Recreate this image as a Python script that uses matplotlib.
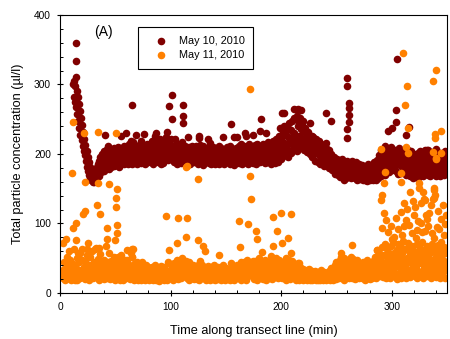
import numpy as np
import matplotlib.pyplot as plt
from matplotlib.ticker import MultipleLocator

plt.rcParams['font.family'] = ['Liberation Sans', 'DejaVu Sans']

# May 10, 2010 -- readings every 0.5 min starting at t = 12 min
may10_start = 12.0
may10_base = np.array("""
300 282 305 275 298 268 290 258 282 248 272 238 262 228 252 220 242 212 232 205
222 198 213 190 204 182 196 176 188 170 181 165 176 162 172 160 168 164 160 168
170 178 163 182 172 186 168 190 178 195 174 184 200 180 192 176 204 188 198 182
190 207 184 196 178 202 188 194 181 206 192 186 199 183 208 190 197 184 203 192
188 210 196 182 204 191 226 186 199 193 207 185 212 197 188 205 201 192 209 186
198 214 190 205 218 193 208 185 217 199 192 211 188 203 228 194 186 208 199 213
191 205 218 187 200 212 195 190 229 203 186 209 197 215 192 201 188 213 206 194
210 189 203 218 196 186 207 226 199 212 191 204 217 188 200 209 194 221 186 205
198 213 187 206 219 192 201 224 210 232 197 215 191 216 206 200 222 193 211 208
196 211 188 204 222 193 200 215 186 207 198 190 213 203 187 209 217 196 205 191
204 191 212 198 186 207 195 224 189 201 210 193 186 205 197 212 190 203 199 188
206 194 211 190 200 186 208 196 226 213 189 202 195 207 184 211 198 191 205 193
200 188 209 195 222 187 203 192 212 198 185 206 194 210 189 201 197 186 208 195
190 205 198 212 186 201 194 209 188 203 196 224 185 199 207 191 202 188 210 196
204 189 198 211 186 206 200 193 207 190 225 184 202 196 209 188 205 197 192 211
187 203 196 214 190 207 185 199 212 193 204 188 226 197 191 209 186 202 214 195
201 189 210 196 205 187 228 199 192 213 186 204 197 215 190 206 198 211 189 203
208 196 209 191 214 201 187 206 230 195 210 188 203 217 192 199 208 186 213 197
205 190 219 198 211 187 222 202 194 215 189 208 226 199 212 193 221 205 196 232
210 240 216 199 228 206 236 213 196 225 244 204 219 235 201 248 214 226 207 252
230 211 250 222 205 254 240 218 246 226 208 252 236 214 245 221 248 206 232 218
238 210 225 203 232 220 214 228 200 220 208 226 196 215 224 204 219 190 210 222
202 216 188 211 198 218 186 207 215 194 204 189 213 198 183 209 192 216 200 207
196 187 206 180 198 193 184 200 177 190 186 178 195 182 171 188 176 193 180 170
185 174 190 167 181 176 193 170 184 163 179 188 173 166 182 175 190 168 178 186
171 183 166 178 190 176 185 170 181 166 176 189 172 163 180 174 168 185 171 164
177 165 184 170 162 178 173 163 181 168 175 161 172 186 164 177 169 162 183 171
166 179 162 174 188 167 180 163 176 192 170 184 165 199 178 187 168 206 181 193
175 198 186 212 170 190 202 180 196 188 205 174 195 183 210 191 177 205 186 200
192 181 206 176 198 199 185 203 171 190 208 184 196 173 200 187 195 178 195 204
183 201 170 192 179 206 188 175 198 169 186 204 177 193 166 189 200 174 185 197
172 188 178 201 166 192 183 175 205 170 187 196 168 181 199 173 190 206 177 185
206 170 193 181 200 168 187 195 174 203 180 189 171 198 184 176 207 169 191 182
174 195 186 169 202 180 191 175 198 183 170 189 204 177 186 193 172
""".split(), dtype=float)

may10_spike_t = [14.4, 14.4, 14.2, 40.6, 43, 59.6, 65, 86.6, 99, 101, 101, 111, 111, 111,
                 126, 136, 155, 160, 167, 180.5, 182, 198.6, 201, 203, 212, 214, 215, 218,
                 218, 226, 241, 245, 260, 260, 261, 261, 261, 261, 260, 260,
                 297, 300, 304, 304, 305, 313, 316, 333]
may10_spike_v = [360, 334, 311, 228, 212, 230, 270, 230, 269, 285, 250, 270, 254, 245,
                 223, 216, 243, 224, 230, 233, 250, 237, 259, 259, 265, 264, 265, 264,
                 246, 245, 259, 247, 310, 298, 273, 266, 256, 246, 236, 223,
                 233, 237, 263, 246, 337, 227, 239, 206]

# May 11, 2010 -- readings every 0.5 min starting at t = 2 min
may11_start = 2.0
may11_base = np.array("""
28 24 22 35 45 19 31 40 26 52 21 38 60 24 33 47 18 29 36 42
27 41 63 19 22 36 50 19 30 58 25 44 21 58 33 26 47 31 28 37
32 20 46 27 55 23 34 41 19 40 28 52 24 35 61 21 30 44 26 38
30 45 25 36 22 49 65 19 33 56 26 41 23 38 29 48 20 37 27 34
29 21 44 33 24 58 20 39 27 46 22 35 31 52 24 40 19 45 28 36
26 52 33 42 19 35 55 23 31 44 18 29 38 25 48 21 34 27 40 24
26 40 20 37 31 58 52 23 33 19 42 28 24 36 21 45 30 18 27 39
22 31 19 36 26 44 20 28 35 18 25 40 23 30 21 38 27 19 33 24
29 20 37 25 18 34 22 41 27 19 31 24 36 21 28 17 33 26 39 22
25 35 20 29 18 38 23 30 27 19 32 24 45 21 30 26 40 22 34 28
19 28 43 24 36 21 30 48 25 39 20 33 27 44 22 35 29 51 26 37
26 42 31 24 46 21 38 27 33 19 44 25 30 36 22 29 40 23 35 20
37 23 31 20 28 41 24 35 19 46 27 33 22 40 30 25 36 21 29 24
18 34 26 21 39 24 30 19 28 37 22 33 20 27 41 23 29 18 35 25
31 20 38 26 34 22 29 19 34 24 40 21 28 33 18 26 36 23 30 20
27 35 22 18 31 24 43 20 29 37 19 26 33 22 39 25 28 41 21 34
24 36 30 19 45 26 38 21 44 33 22 28 40 19 48 27 35 44 26 31
38 29 41 24 32 46 31 20 37 46 27 22 34 19 42 28 51 24 33 21
38 29 26 44 20 32 48 23 36 19 29 41 25 35 22 46 30 27 53 20
34 45 27 42 30 23 37 50 26 45 21 39 33 48 25 40 29 44 22 36
28 44 22 36 19 50 31 38 25 41 29 47 20 33 27 46 23 38 30 21
35 24 40 19 29 33 22 43 26 18 31 37 21 28 24 34 19 27 22 30
20 26 33 18 24 29 21 35 19 27 23 31 18 25 22 28 20 32 24 19
26 21 30 18 23 27 19 25 33 20 28 22 18 24 30 21 26 19 29 23
20 27 22 31 18 25 36 21 29 19 24 33 22 40 26 20 45 28 23 38
30 21 47 25 52 33 22 41 28 50 19 36 44 26 32 23 48 29 37 21
34 45 27 52 38 22 49 31 25 43 20 36 29 47 24 33 40 21 28 35
24 39 30 21 45 27 33 19 41 26 36 22 48 29 25 38 20 34 43 28
37 22 46 30 25 52 33 41 21 62 35 48 27 58 40 24 55 31 66 44
23 38 55 29 70 44 21 63 36 49 27 58 41 22 67 33 52 25 46 74
30 57 24 48 39 62 20 45 71 28 53 36 66 22 42 58 31 75 26 49
38 64 21 50 33 72 27 44 60 23 55 35 68 26 47 29 61 40 24 52
36 70 22 49 58 28 43 65 25 54 32 73 21 46 39 62 27 56 34 68
24 51 44 66 29 38 57 22 71 35 48 26 63 41 30 59 23 52 37 69
27 45 60 21 54 36 73 30 48 25 66 39 57 22 43 62 33
""".split(), dtype=float)

may11_spike_t = [2.7, 5.4, 11, 11.7, 11.7, 14.4, 14.8, 20, 21, 21.7, 22.6, 22.6, 25, 24.7,
                 31.6, 33, 33.6, 34, 34.3, 36, 41.5, 42.4, 42.4, 44.5, 49.6, 50.5, 50.5,
                 51, 51.4, 52, 51.5, 53, 60.5, 61, 65, 65, 66, 95.7, 99, 105.6, 106.5,
                 113.7, 113.7, 114.5, 114.6, 124.5, 124.6, 129, 131, 143.5, 161.5, 163,
                 169.7, 171.5, 172, 173, 177, 177.8, 183, 193, 193, 196.7, 200, 201,
                 205.8, 208.5, 209, 216.6, 254.5, 264.4, 287, 290.6, 290.6, 291, 291.5,
                 293.3, 293.3, 294, 295, 297, 299, 300, 302, 304, 305, 306, 308.7, 308.7,
                 308.7, 309, 310, 311, 311, 312, 313, 313, 314, 314, 315, 315, 316, 317,
                 318, 319, 320, 321, 322, 323, 324, 325, 325, 326.7, 326.7, 327, 328,
                 329.4, 330, 330, 331, 332, 333, 334, 335.7, 336, 337, 337, 337, 338,
                 338.4, 338.4, 338, 339, 339, 339, 340, 340, 340, 341, 342, 343, 345,
                 345, 344.8, 345.6, 346, 347, 348, 349]
may11_spike_v = [72, 78, 172, 246, 94, 76, 101, 63, 114, 230, 159, 118, 72, 63,
                 63, 65, 127, 231, 158, 114, 68, 78, 94, 157, 76, 136, 124,
                 230, 150, 98, 86, 52, 48, 62, 64, 52, 63, 111, 62, 72, 108,
                 80, 181, 183, 108, 164, 76, 68, 60, 55, 104, 66,
                 99, 168, 293, 135, 89, 78, 59, 109, 68, 89, 115, 72,
                 79, 114, 58, 43, 58, 69, 62, 207, 134, 141, 93,
                 115, 158, 174, 105, 88, 96, 78, 81, 108, 62, 92, 173, 160,
                 117, 84, 346, 129, 97, 270, 210, 105, 298, 121, 238, 201, 98, 145,
                 87, 132, 112, 124, 79, 91, 103, 158, 151, 129, 101, 88, 146,
                 135, 134, 89, 112, 106, 97, 115, 127, 86, 305, 135, 203, 151,
                 148, 136, 79, 229, 223, 141, 321, 193, 194, 95, 118, 92, 233,
                 201, 107, 66, 127, 84, 99, 112]

brown = '#800000'
orange = '#ff8000'
msize = 30

may10_t = may10_start + 0.5 * np.arange(len(may10_base))
may11_t = may11_start + 0.5 * np.arange(len(may11_base))

fig = plt.figure(figsize=(4.5, 3.39), dpi=100)
ax = fig.add_axes([0.1333, 0.1357, 0.86, 0.8201])

h10 = ax.scatter(may10_t, may10_base, s=msize, c=brown, linewidths=0, label='May 10, 2010')
ax.scatter(may10_spike_t, may10_spike_v, s=msize, c=brown, linewidths=0)
h11 = ax.scatter(may11_t, may11_base, s=msize, c=orange, linewidths=0, label='May 11, 2010')
ax.scatter(may11_spike_t, may11_spike_v, s=msize, c=orange, linewidths=0)

ax.set_xlim(0, 350)
ax.set_ylim(0, 400)
ax.set_xticks([0, 100, 200, 300])
ax.set_yticks([0, 100, 200, 300, 400])
ax.xaxis.set_minor_locator(MultipleLocator(20))
ax.yaxis.set_minor_locator(MultipleLocator(20))
ax.tick_params(which='major', direction='inout', length=5, width=0.8, labelsize=7.3, pad=4)
ax.tick_params(which='minor', direction='in', length=2.3, width=0.7)
for sp in ax.spines.values():
    sp.set_linewidth(0.8)

ax.set_xlabel('Time along transect line (min)', fontsize=9.2, labelpad=9)
ax.set_ylabel('Total particle concentration (\u00b5l/l)', fontsize=9.2, labelpad=7)
ax.text(31, 375, '(A)', fontsize=10, va='center')

leg = ax.legend(handles=[h10, h11], loc='upper left', bbox_to_anchor=(0.2016, 0.957),
                borderaxespad=0, fontsize=7.8, fancybox=False, edgecolor='black',
                framealpha=1, handlelength=2.6, handletextpad=0.35, borderpad=0.8,
                labelspacing=0.4, scatterpoints=1)
leg.get_frame().set_linewidth(0.8)

fig.savefig('out.png', dpi=100)
